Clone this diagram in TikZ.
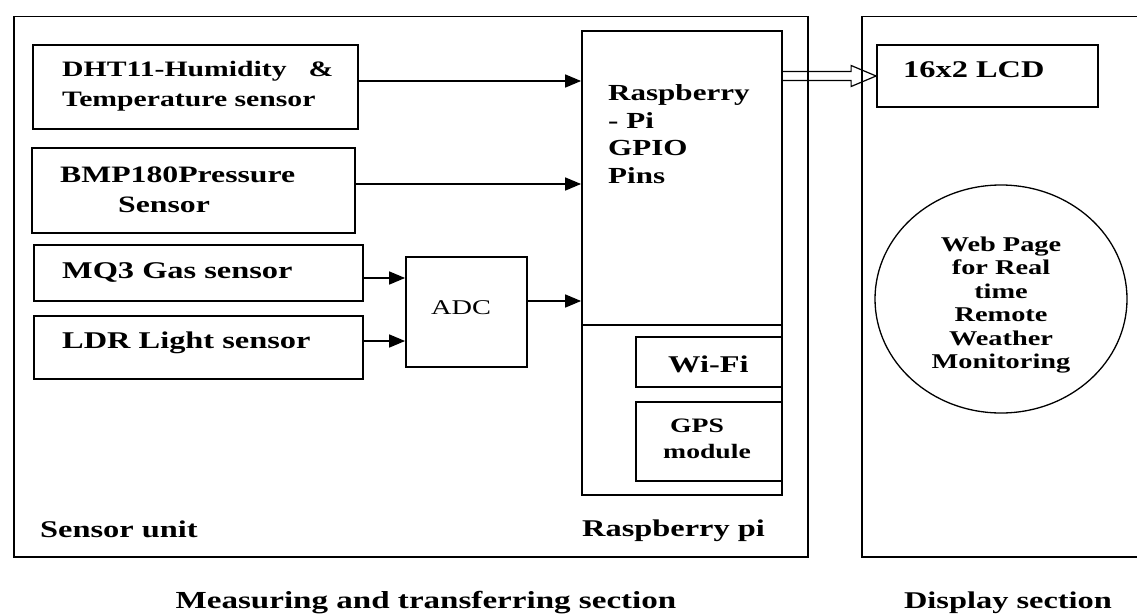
\documentclass[tikz,border=0pt]{standalone}
\usepackage{fontspec}
\setmainfont{Liberation Serif}[FakeStretch=1.35]
\usetikzlibrary{shapes.geometric,arrows.meta,calc}
\newcommand\fsz[2]{\fontsize{#1}{#2}\selectfont}
\begin{document}
\begin{tikzpicture}[x=1pt,y=-1pt,
  box/.style={draw, line width=1.8pt, rectangle, inner sep=0pt},
  lbl/.style={anchor=base west, inner sep=0pt},
  ctr/.style={anchor=base, inner sep=0pt},
  arr/.style={line width=1.6pt, -{Triangle[length=16pt,width=13pt]}},
]
\useasboundingbox (0,0) rectangle (1137,613);
\fill[white] (0,0) rectangle (1137,613);

% section frames
\node[box, minimum width=794, minimum height=540.5] (outer) at (411,286.75) {};
\coordinate (dispTR) at (1140,16.5);
\coordinate (dispTL) at (862,16.5);
\coordinate (dispBL) at (862,557);
\coordinate (dispBR) at (1140,557);
\draw[line width=1.8pt] (dispTR) -- (dispTL) -- (dispBL) -- (dispBR);

% sensor boxes
\node[box, minimum width=325, minimum height=84] (dht) at (195.5,87) {};
\node[box, minimum width=323, minimum height=85] (bmp) at (193.5,190.5) {};
\node[box, minimum width=329, minimum height=56] (mq3) at (198.5,273) {};
\node[box, minimum width=329, minimum height=63] (ldr) at (198.5,347.5) {};
\node[box, minimum width=121, minimum height=110] (adc) at (466.5,312) {};

% raspberry pi
\node[box, minimum width=200, minimum height=464] (rpi) at (682,263) {};
\coordinate (sepL) at (582,325);
\draw[line width=1.8pt] (sepL) -- (sepL -| rpi.east);
\node[box, minimum width=146, minimum height=50] (wifi) at (709,362) {};
\node[box, minimum width=146, minimum height=79] (gps) at (709,441.5) {};

% display
\node[box, minimum width=221, minimum height=62] (lcd) at (987.5,76) {};
\node[draw, line width=1.3pt, ellipse, inner sep=0pt, minimum width=252, minimum height=228] (web) at (1001,299) {};

% texts
\node[lbl, font=\bfseries\fsz{22}{26}] (tdht1) at (62,76) {DHT11-Humidity\hspace{22pt}\&};
\node[lbl, font=\bfseries\fsz{22}{26}] (tdht2) at (62,106) {Temperature sensor};
\node[lbl, font=\bfseries\fsz{23.5}{28}] (tbmp1) at (60,182) {BMP180Pressure};
\node[lbl, font=\bfseries\fsz{23.5}{28}] (tbmp2) at (118,212) {Sensor};
\node[lbl, font=\bfseries\fsz{24}{28}] (tmq3) at (62,278) {MQ3 Gas sensor};
\node[lbl, font=\bfseries\fsz{24}{28}] (tldr) at (62,348) {LDR Light sensor};
\node[ctr, font=\fsz{21}{24}] (tadc) at (461,314) {ADC};
\node[lbl, font=\bfseries\fsz{23}{27}] (trp1) at (608,100) {Raspberry};
\node[lbl, font=\bfseries\fsz{23}{27}] (trp2) at (608,128) {- Pi};
\node[lbl, font=\bfseries\fsz{23}{27}] (trp3) at (608,155) {GPIO};
\node[lbl, font=\bfseries\fsz{23}{27}] (trp4) at (608,183) {Pins};
\node[lbl, font=\bfseries\fsz{24}{28}] (twifi) at (668,372) {Wi-Fi};
\node[lbl, font=\bfseries\fsz{20.5}{24}] (tgps1) at (670,432) {GPS};
\node[lbl, font=\bfseries\fsz{20.5}{24}] (tgps2) at (663,458) {module};
\node[lbl, font=\bfseries\fsz{24}{28}] (tsu) at (40,537) {Sensor unit};
\node[lbl, font=\bfseries\fsz{24}{28}] (trpi) at (582,536) {Raspberry pi};
\node[lbl, font=\bfseries\fsz{24}{28}] (tlcd) at (903,77) {16x2 LCD};
\node[align=center, inner sep=0pt, font=\bfseries\fsz{21}{23.5}] (tweb) at (1001,305)
  {Web Page\\for Real\\time\\Remote\\Weather\\Monitoring};
\node[ctr, font=\bfseries\fsz{24.5}{28}] (tmeas) at (426,608) {Measuring and transferring section};
\node[ctr, font=\bfseries\fsz{24}{28}] (tdisp) at (1008,608) {Display section};

% connectors
\draw[arr] ([yshift=6pt]dht.east) -- ([yshift=6pt]dht.east -| rpi.west);
\draw[arr] ([yshift=6.5pt]bmp.east) -- ([yshift=6.5pt]bmp.east -| rpi.west);
\draw[arr] ([yshift=-5pt]mq3.east) -- ([yshift=-5pt]mq3.east -| adc.west);
\draw[arr] ([yshift=6.5pt]ldr.east) -- ([yshift=6.5pt]ldr.east -| adc.west);
\draw[arr] ([yshift=11pt]adc.east) -- ([yshift=11pt]adc.east -| rpi.west);

% hollow arrow to LCD
\coordinate (ha) at (rpi.east |- lcd.west);
\draw[line width=1.2pt, line join=miter]
  ($(ha)+(0,-4.5)$) -- ($(lcd.west)+(-25,-4.5)$) -- ($(lcd.west)+(-25,-10.5)$)
  -- (lcd.west) -- ($(lcd.west)+(-25,10.5)$) -- ($(lcd.west)+(-25,4.5)$) -- ($(ha)+(0,4.5)$);
\end{tikzpicture}
\end{document}
